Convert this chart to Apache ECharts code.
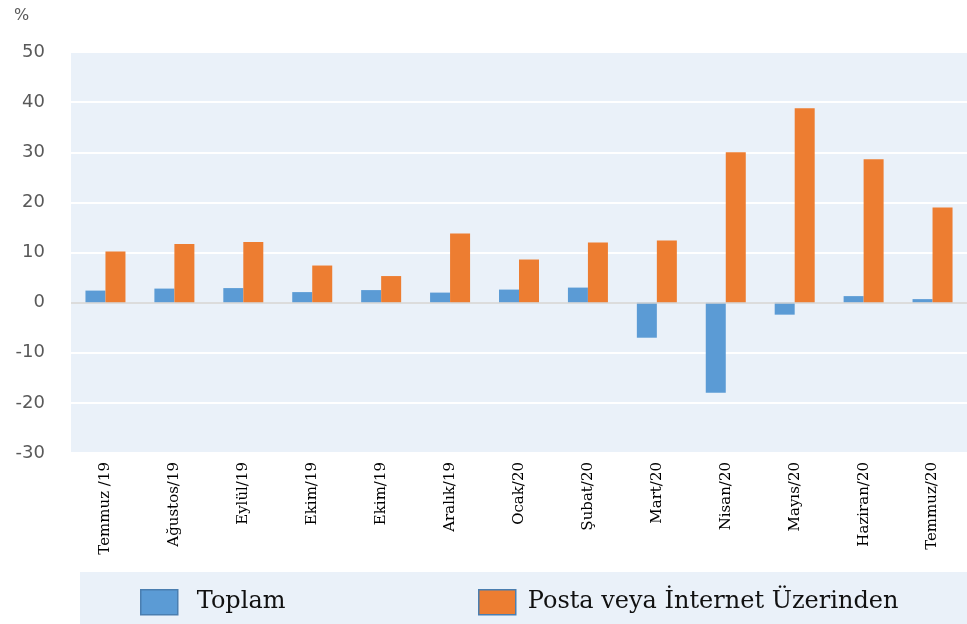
<!DOCTYPE html>
<html>
<head>
<meta charset="utf-8">
<script src="https://cdn.jsdelivr.net/npm/echarts@6/dist/echarts.min.js"></script>
<style>
  html, body { margin: 0; padding: 0; background: #fff; }
  #chart { width: 967px; height: 624px; }
</style>
</head>
<body>
<div id="chart"></div>
<script>
// aylar (x ekseni)
const months = ['Temmuz /19', 'Ağustos/19', 'Eylül/19', 'Ekim/19', 'Ekim/19', 'Aralık/19',
  'Ocak/20', 'Şubat/20', 'Mart/20', 'Nisan/20', 'Mayıs/20', 'Haziran/20', 'Temmuz/20'];

// yıllık değişim, %
const toplam = [2.4, 2.8, 2.9, 2.1, 2.5, 2.0, 2.6, 3.0, -7.0, -18.0, -2.4, 1.3, 0.7];
const postaInternet = [10.2, 11.7, 12.1, 7.4, 5.3, 13.8, 8.6, 12.0, 12.4, 30.0, 38.8, 28.6, 19.0];

const yTicks = { min: -30, max: 50, step: 10 };

const blue = '#5B9BD5';
const orange = '#ED7D31';
const panelBg = '#EAF1F9';

let myChart = echarts.init(document.getElementById('chart'));

const legendText = { fontFamily: 'DejaVu Serif', fontSize: 24, color: '#111' };

let option = {
  animation: false,
  title: {
    text: '%',
    left: 9, top: 3,
    textStyle: { fontFamily: 'DejaVu Sans', fontSize: 16, fontWeight: 'normal', color: '#595959' }
  },
  graphic: [
    { // lejant kutusu
      type: 'rect', z: 0,
      shape: { x: 80, y: 572, width: 887, height: 52 },
      style: { fill: panelBg }
    }
  ],
  legend: [
    {
      data: ['Toplam'], left: 135, top: 584,
      icon: 'rect', itemWidth: 37, itemHeight: 25,
      itemStyle: { borderColor: '#4A7EB0', borderWidth: 1.5 },
      textStyle: Object.assign({ padding: [0, 0, 0, 14] }, legendText)
    },
    {
      data: ['Posta veya İnternet Üzerinden'], left: 473, top: 584,
      icon: 'rect', itemWidth: 37, itemHeight: 25,
      itemStyle: { borderColor: '#4A7EB0', borderWidth: 1.5 },
      textStyle: Object.assign({ padding: [0, 0, 0, 7] }, legendText)
    }
  ],
  grid: {
    left: 71, right: 0, top: 52, bottom: 171,
    show: true, backgroundColor: panelBg, borderWidth: 0
  },
  xAxis: {
    type: 'category',
    data: months,
    axisLine: { show: false, onZero: false },
    axisTick: { show: false },
    axisLabel: {
      rotate: 90, interval: 0, margin: 9,
      fontFamily: 'DejaVu Serif', fontSize: 15, color: '#000'
    }
  },
  yAxis: {
    type: 'value',
    min: yTicks.min, max: yTicks.max, interval: yTicks.step,
    axisLine: { show: false },
    axisTick: { show: false },
    axisLabel: { margin: 26, fontFamily: 'DejaVu Sans', fontSize: 18, color: '#595959' },
    splitLine: { lineStyle: { color: '#FFFFFF', width: 2 } }
  },
  series: [
    {
      name: 'Toplam',
      type: 'bar',
      data: toplam,
      barWidth: 20,
      barGap: '0%',
      itemStyle: { color: blue },
      markLine: {
        silent: true, symbol: 'none', label: { show: false },
        lineStyle: { color: '#D0D0D0', width: 1.5, type: 'solid' },
        data: [{ yAxis: 0 }]
      }
    },
    {
      name: 'Posta veya İnternet Üzerinden',
      type: 'bar',
      data: postaInternet,
      barWidth: 20,
      itemStyle: { color: orange }
    }
  ]
};

myChart.setOption(option);
</script>
</body>
</html>
